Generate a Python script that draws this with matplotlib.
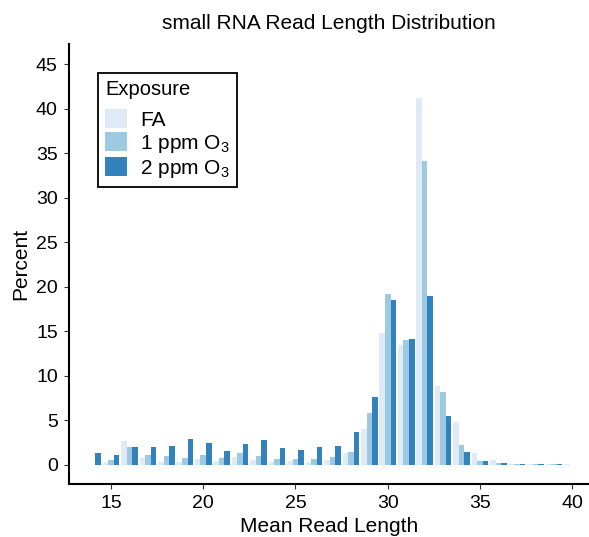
import numpy as np
import matplotlib
matplotlib.use('Agg')
from matplotlib import pyplot as plt

plt.rcParams['font.family'] = ['Liberation Sans', 'DejaVu Sans']
plt.rcParams['mathtext.fontset'] = 'custom'
plt.rcParams['mathtext.rm'] = 'Liberation Sans'
plt.rcParams['mathtext.it'] = 'Liberation Sans:italic'

# read length (nt) and percent of reads per exposure group
read_length = list(range(14, 41))
fa = [0.0, 0.35, 2.7, 0.8, 0.35, 0.35, 0.65, 0.4, 0.9, 0.55, 0.35, 0.45, 0.35, 0.55,
      1.35, 4.0, 14.8, 13.4, 41.2, 8.9, 4.8, 1.35, 0.55, 0.1, 0.05, 0.05, 0.05]
ppm1 = [0.0, 0.55, 2.0, 1.1, 1.0, 0.8, 1.1, 0.8, 1.35, 1.0, 0.65, 0.65, 0.65, 0.9,
        1.45, 5.85, 19.2, 14.05, 34.1, 8.2, 2.25, 0.45, 0.25, 0.12, 0.05, 0.05, 0.02]
ppm2 = [1.35, 1.1, 2.0, 2.0, 2.1, 2.9, 2.5, 1.55, 2.35, 2.8, 1.9, 1.7, 2.0, 2.1,
        3.7, 7.6, 18.5, 14.1, 19.0, 5.5, 1.45, 0.45, 0.25, 0.15, 0.15, 0.15, 0.0]

groups = ['FA', r'1 ppm O$_3$', r'2 ppm O$_3$']
colors = ['#deebf7', '#9ecae1', '#3182bd']

fig = plt.figure(figsize=(5.89, 5.37), dpi=100)
ax = fig.add_axes([69 / 589, 1 - 484 / 537, 1 - 69 / 589, 440 / 537])

x = np.array(read_length)
width = 0.3
for i, (vals, label, col) in enumerate(zip([fa, ppm1, ppm2], groups, colors)):
    ax.bar(x + (i - 1) * width, vals, width=width, color=col, label=label, linewidth=0)

ax.set_xlim(12.73, 40.9)
ax.set_ylim(-2.15, 47.25)
ax.set_xticks([15, 20, 25, 30, 35, 40])
ax.set_yticks(range(0, 46, 5))

for side in ['top', 'right']:
    ax.spines[side].set_visible(False)
for side in ['left', 'bottom']:
    ax.spines[side].set_linewidth(1.5)
    ax.spines[side].set_color('black')
ax.tick_params(axis='both', labelsize=14, length=3.6, width=0.8, pad=4.5,
               color='#333333', labelcolor='black')

ax.set_xlabel('Mean Read Length', fontsize=15, labelpad=3.5)
ax.set_ylabel('Percent', fontsize=15, labelpad=4)
ax.set_title('small RNA Read Length Distribution', fontsize=15, pad=11)

leg = ax.legend(title='Exposure', loc='upper left', bbox_to_anchor=(0.0558, 0.934),
                borderaxespad=0, fontsize=15, title_fontsize=14.5, alignment='left',
                handlelength=1.06, handleheight=1.02, handletextpad=0.62,
                labelspacing=0.12, borderpad=0.35, fancybox=False,
                edgecolor='black', framealpha=1)
leg.get_frame().set_linewidth(1.3)
# a bit more room between the legend title and the first key
leg._legend_box.sep = 7

fig.savefig('out.png', dpi=100)
plt.close()
